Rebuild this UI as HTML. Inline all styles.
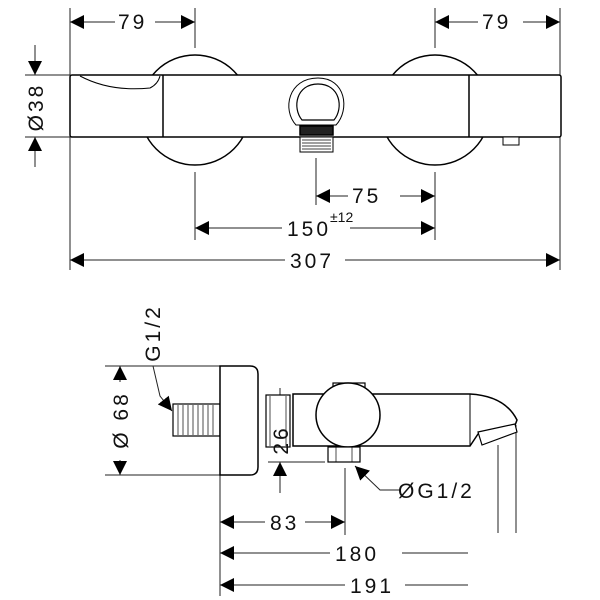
<!DOCTYPE html>
<html><head><meta charset="utf-8"><style>
html,body{margin:0;padding:0;background:#fff;}
svg{display:block;}
text{font-family:"Liberation Sans",sans-serif;font-size:21px;fill:#111;letter-spacing:3px;}
</style></head><body>
<svg width="600" height="600" viewBox="0 0 600 600" xmlns="http://www.w3.org/2000/svg">
<defs>
<marker id="a" viewBox="0 0 10 10" refX="10" refY="5" markerWidth="14" markerHeight="14" markerUnits="userSpaceOnUse" orient="auto-start-reverse"><path d="M0,0 L10,5 L0,10 z" fill="#000"/></marker>
</defs>
<g stroke="#222" stroke-width="1" fill="none">
<line x1="70" y1="8" x2="70" y2="270"/>
<line x1="560" y1="8" x2="560" y2="270"/>
<line x1="195" y1="8" x2="195" y2="48"/>
<line x1="435" y1="8" x2="435" y2="48"/>
<line x1="195" y1="172" x2="195" y2="240"/>
<line x1="435" y1="172" x2="435" y2="240"/>
<line x1="316" y1="158" x2="316" y2="205"/>
<line x1="25" y1="75" x2="70" y2="75"/>
<line x1="25" y1="137" x2="70" y2="137"/>
</g>
<g stroke="#000" stroke-width="1.5" fill="#fff">
<circle cx="195" cy="110" r="55"/>
<circle cx="435" cy="110" r="55"/>
<rect x="70" y="75" width="491" height="62" rx="2"/>
<line x1="163" y1="75" x2="163" y2="137"/>
<line x1="469" y1="75" x2="469" y2="137"/>
<path d="M80,76 Q110,92 150,88 Q158,84 160,76" stroke-width="1"/>
<path d="M318,78 C288,78 282,110 296,125 L336,125 C350,110 346,78 318,78 z" stroke-width="1"/>
<path d="M318,84 C296,84 292,108 302,120 L334,120 C344,108 340,84 318,84 z" stroke-width="1.2"/>
<rect x="300" y="126" width="33" height="9" fill="#222"/>
<rect x="300" y="137" width="33" height="15" stroke-width="1"/>
<rect x="503" y="137" width="16" height="8" stroke-width="1"/>
</g>
<g stroke="#000" stroke-width="0.7">
<line x1="302" y1="140" x2="331" y2="140"/><line x1="302" y1="143" x2="331" y2="143"/><line x1="302" y1="146" x2="331" y2="146"/><line x1="302" y1="149" x2="331" y2="149"/>
</g>
<g stroke="#222" stroke-width="1" fill="none">
<line x1="70" y1="22" x2="115" y2="22" marker-start="url(#a)"/>
<line x1="155" y1="22" x2="195" y2="22" marker-end="url(#a)"/>
<line x1="435" y1="22" x2="478" y2="22" marker-start="url(#a)"/>
<line x1="523" y1="22" x2="560" y2="22" marker-end="url(#a)"/>
<line x1="35" y1="45" x2="35" y2="75" marker-end="url(#a)"/>
<line x1="35" y1="167" x2="35" y2="137" marker-end="url(#a)"/>
<line x1="316" y1="196" x2="348" y2="196" marker-start="url(#a)"/>
<line x1="400" y1="196" x2="435" y2="196" marker-end="url(#a)"/>
<line x1="195" y1="228" x2="282" y2="228" marker-start="url(#a)"/>
<line x1="350" y1="228" x2="435" y2="228" marker-end="url(#a)"/>
<line x1="70" y1="260" x2="285" y2="260" marker-start="url(#a)"/>
<line x1="345" y1="260" x2="560" y2="260" marker-end="url(#a)"/>
</g>
<text x="118" y="29">79</text>
<text x="482" y="29">79</text>
<text x="352" y="203">75</text>
<text x="287" y="236">150</text><text x="330" y="222" style="font-size:14px;letter-spacing:0">±12</text>
<text x="290" y="268">307</text>
<text transform="translate(43,107) rotate(-90)" text-anchor="middle">Ø38</text>

<g stroke="#222" stroke-width="1" fill="none">
<line x1="105" y1="366" x2="220" y2="366"/>
<line x1="105" y1="475" x2="220" y2="475"/>
<line x1="220" y1="475" x2="220" y2="596"/>
<line x1="345" y1="468" x2="345" y2="535"/>
<line x1="498" y1="445" x2="498" y2="533"/>
<line x1="516" y1="425" x2="516" y2="533"/>
<line x1="268" y1="462" x2="325" y2="462"/>
<line x1="280" y1="388" x2="280" y2="418" marker-end="url(#a)"/>
<line x1="280" y1="493" x2="280" y2="462" marker-end="url(#a)"/>
<line x1="120" y1="382" x2="120" y2="366" marker-end="url(#a)"/>
<line x1="120" y1="460" x2="120" y2="475" marker-end="url(#a)"/>
<polyline points="153,366 160,396 172,411" marker-end="url(#a)"/>
<polyline points="400,490 380,490 355,466" marker-end="url(#a)"/>
<line x1="220" y1="522" x2="265" y2="522" marker-start="url(#a)"/>
<line x1="305" y1="522" x2="345" y2="522" marker-end="url(#a)"/>
<line x1="220" y1="553" x2="330" y2="553" marker-start="url(#a)"/>
<line x1="402" y1="553" x2="468" y2="553"/>
<line x1="220" y1="585" x2="345" y2="585" marker-start="url(#a)"/>
<line x1="405" y1="585" x2="468" y2="585"/>
</g>
<g stroke="#000" stroke-width="1.5" fill="#fff">
<rect x="173" y="404" width="47" height="32" stroke-width="1.2"/>
<path d="M220,366 L250,366 Q258,366 258,374 L258,467 Q258,475 250,475 L220,475 z"/>
<rect x="266" y="395" width="24" height="52" stroke-width="1.2"/>
<path d="M293,394 L470,394 Q505,396 517,420 L514,428 L478,434 L470,446 L293,446 z"/>
<line x1="470" y1="394" x2="470" y2="446" stroke-width="1"/>
<path d="M478,432 L515,424 L517,432 L482,445 z" stroke-width="1.2"/>
<rect x="333" y="383" width="32" height="10" stroke-width="1.2"/>
<circle cx="348" cy="415" r="32"/>
<rect x="328" y="447" width="32" height="15" stroke-width="1.2"/>
</g>
<g stroke="#000" stroke-width="0.7">
<line x1="178" y1="405" x2="178" y2="435"/><line x1="183" y1="405" x2="183" y2="435"/><line x1="188" y1="405" x2="188" y2="435"/><line x1="193" y1="405" x2="193" y2="435"/><line x1="198" y1="405" x2="198" y2="435"/><line x1="203" y1="405" x2="203" y2="435"/><line x1="208" y1="405" x2="208" y2="435"/><line x1="213" y1="405" x2="213" y2="435"/>
<line x1="336" y1="447" x2="336" y2="462"/><line x1="352" y1="447" x2="352" y2="462"/>
<line x1="270" y1="396" x2="270" y2="446"/><line x1="286" y1="396" x2="286" y2="446"/>
</g>
<text transform="translate(160,333) rotate(-90)" text-anchor="middle">G1/2</text>
<text transform="translate(128,420) rotate(-90)" text-anchor="middle">Ø 68</text>
<text transform="translate(288,440) rotate(-90)" text-anchor="middle">26</text>
<text x="398" y="498">ØG1/2</text>
<text x="270" y="530">83</text>
<text x="335" y="561">180</text>
<text x="350" y="593">191</text>
</svg>
</body></html>
